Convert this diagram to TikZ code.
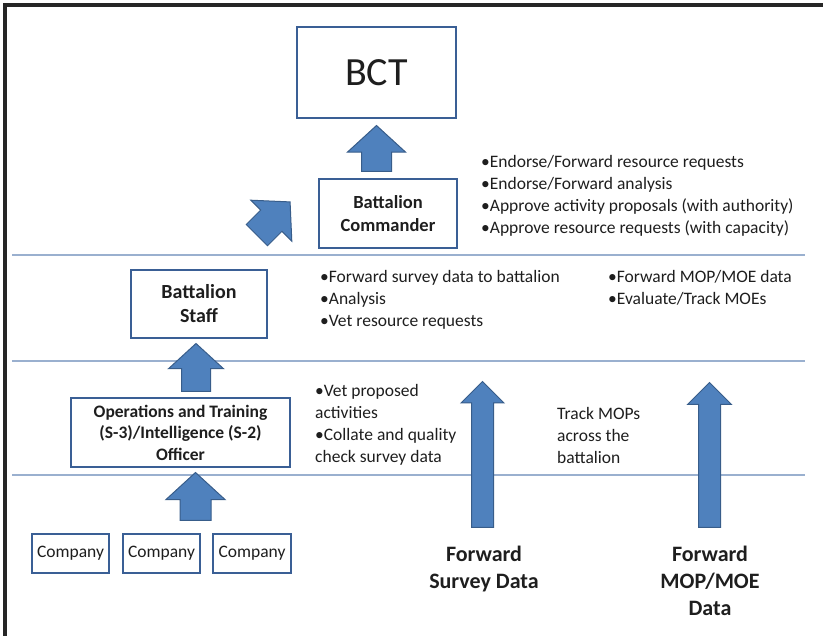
\documentclass[tikz,border=0pt]{standalone}
\usepackage{fontspec}
\setmainfont{Carlito}
\usetikzlibrary{shapes.arrows}
\usetikzlibrary{positioning}

\definecolor{boxblue}{HTML}{3A5F95}
\definecolor{arrowfill}{HTML}{4F81BD}
\definecolor{arrowline}{HTML}{385D8A}
\definecolor{rulecol}{HTML}{9AB0CF}
\definecolor{inkcol}{HTML}{1E1E1E}

\tikzset{
  unit/.style={draw=boxblue, line width=2.5pt, fill=white, align=center, inner sep=2pt, text=inkcol},
  bigarrow/.style={single arrow, draw=arrowline, fill=arrowfill, line width=1pt,
    minimum width=0pt, inner xsep=0pt, anchor=tail, single arrow tip angle=95},
  notes/.style={anchor=north west, align=left, inner sep=0pt, text=inkcol,
    font=\fontsize{17.5}{22}\selectfont},
  band/.style={draw=rulecol, line width=1.2pt},
}

\begin{document}
\begin{tikzpicture}[x=1pt, y=-1pt]
\useasboundingbox (0,0) rectangle (823,636);
\draw[line width=3.5pt, black!85] (823,5) -- (5,5) -- (5,636);

% level bands
\draw[band] (12,255) -- (805,255);
\draw[band] (12,361) -- (805,361);
\draw[band] (12,475) -- (805,475);

% units
\node[unit, minimum width=159pt, minimum height=91pt, font=\fontsize{40}{48}\selectfont] (bct) at (376.5,72.5) {BCT};
\node[unit, minimum width=138pt, minimum height=69pt, font=\fontsize{18.5}{23}\selectfont\bfseries] (cmdr) at (388,213.5) {Battalion\\Commander};
\node[unit, minimum width=136pt, minimum height=68pt, font=\fontsize{20}{24}\selectfont\bfseries] (staff) at (199,304) {Battalion\\Staff};
\node[unit, minimum width=219pt, minimum height=69pt, font=\fontsize{17.5}{21.5}\selectfont\bfseries] (ops) at (180.5,432.5) {Operations and Training\\(S-3)/Intelligence (S-2)\\Officer};
\node[unit, minimum width=77pt, minimum height=39pt, inner sep=1pt, font=\fontsize{17.5}{20}\selectfont] (coa) at (70.5,553.5) {Company};
\node[unit, minimum width=77pt, minimum height=39pt, inner sep=1pt, font=\fontsize{17.5}{20}\selectfont] (cob) at (161.5,553.5) {Company};
\node[unit, minimum width=78pt, minimum height=39pt, inner sep=1pt, font=\fontsize{17.5}{20}\selectfont] (coc) at (252,553.5) {Company};

% block arrows
\node[bigarrow, rotate=90, minimum height=46pt, inner ysep=14.5pt, single arrow head extend=14pt] (upbct) at (376.5,172) {};
\node[bigarrow, rotate=45, minimum height=47pt, inner ysep=14.5pt, single arrow head extend=14pt] (upcmdr) at (256.5,235.5) {};
\node[bigarrow, rotate=90, minimum height=48pt, inner ysep=14pt, single arrow head extend=13pt] (upstaff) at (196,392) {};
\node[bigarrow, rotate=90, minimum height=48pt, inner ysep=15pt, single arrow head extend=14pt] (upops) at (195.5,521) {};
\node[bigarrow, rotate=90, minimum height=146pt, inner ysep=10.5pt, single arrow head extend=10.5pt, single arrow tip angle=90] (upsurvey) at (482.5,528) {};
\node[bigarrow, rotate=90, minimum height=145pt, inner ysep=10.5pt, single arrow head extend=11pt, single arrow tip angle=90] (upmop) at (709.5,528) {};

% tasks
\node[notes] (cmdrtasks) at (481,155) {•Endorse/Forward resource requests\\•Endorse/Forward analysis\\•Approve activity proposals (with authority)\\•Approve resource requests (with capacity)};
\node[notes] (stafftasks) at (320,270) {•Forward survey data to battalion\\•Analysis\\•Vet resource requests};
\node[notes] (moptasks) at (608,270) {•Forward MOP/MOE data\\•Evaluate/Track MOEs};
\node[notes] (opstasks) at (315,384) {•Vet proposed\\activities\\•Collate and quality\\check survey data};
\node[notes] (tracktasks) at (557,407) {Track MOPs\\across the\\battalion};

% data labels
\node[anchor=north, align=center, inner sep=0pt, text=inkcol, font=\fontsize{22}{27}\selectfont\bfseries] (survey) at (484,546) {Forward\\Survey Data};
\node[anchor=north, align=center, inner sep=0pt, text=inkcol, font=\fontsize{22}{27}\selectfont\bfseries] (mopdata) at (710,546) {Forward\\MOP/MOE\\Data};
\end{tikzpicture}
\end{document}
